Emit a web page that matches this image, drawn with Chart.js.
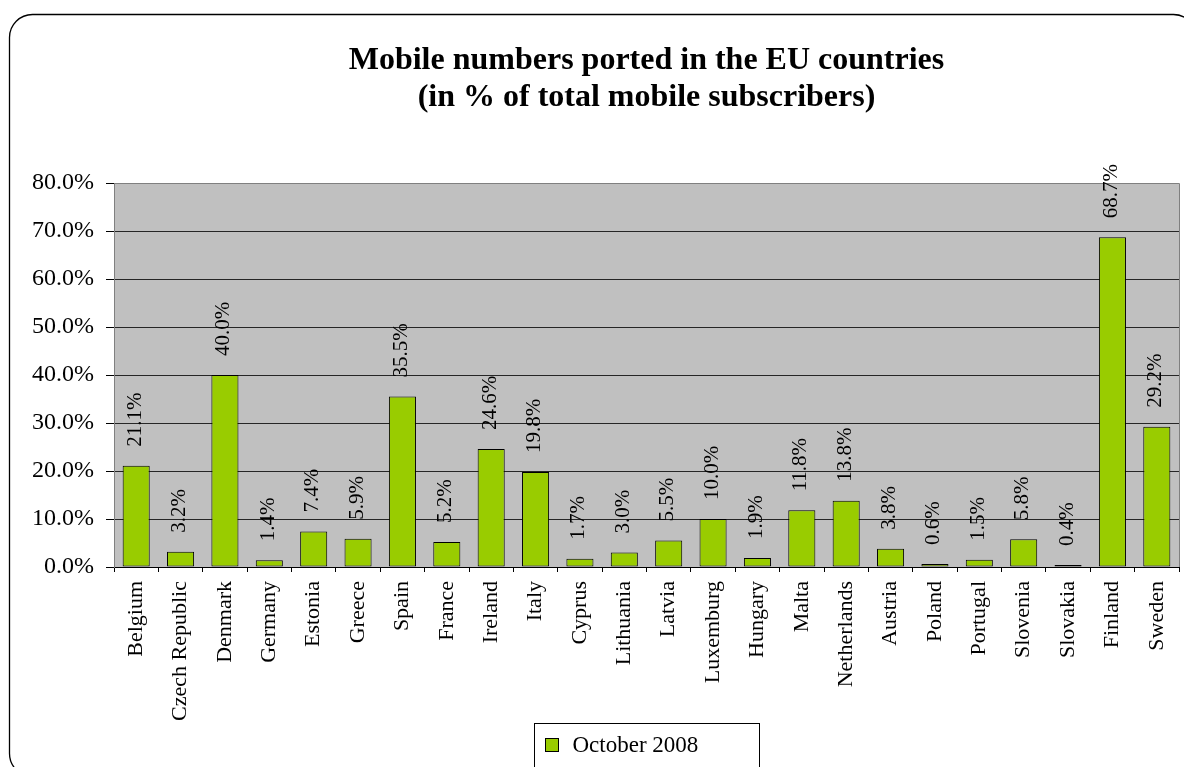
<!DOCTYPE html>
<html>
<head>
<meta charset="utf-8">
<title>Mobile numbers ported in the EU countries</title>
<script src="https://cdn.jsdelivr.net/npm/chart.js@4.4.1/dist/chart.umd.min.js"></script>
<style>
  html, body { margin: 0; padding: 0; background: #ffffff; }
  #wrap { width: 1184px; height: 767px; position: relative; }
</style>
</head>
<body>
<div id="wrap"><canvas id="chart" width="1184" height="767"></canvas></div>
<script>
// Share of mobile numbers ported, October 2008 (% of total mobile subscribers)
const countries = [
  'Belgium', 'Czech Republic', 'Denmark', 'Germany', 'Estonia', 'Greece',
  'Spain', 'France', 'Ireland', 'Italy', 'Cyprus', 'Lithuania', 'Latvia',
  'Luxemburg', 'Hungary', 'Malta', 'Netherlands', 'Austria', 'Poland',
  'Portugal', 'Slovenia', 'Slovakia', 'Finland', 'Sweden'
];
const ported2008 = [
  21.1, 3.2, 40.0, 1.4, 7.4, 5.9,
  35.5, 5.2, 24.6, 19.8, 1.7, 3.0, 5.5,
  10.0, 1.9, 11.8, 13.8, 3.8, 0.6,
  1.5, 5.8, 0.4, 68.7, 29.2
];
const seriesName = 'October 2008';
const titleLines = ['Mobile numbers ported in the EU countries', '(in % of total mobile subscribers)'];
const yMin = 0, yMax = 80, yStep = 10;

const SERIF = '"Liberation Serif", "Times New Roman", serif';
const BAR_FILL = '#99CC00';

// Gray plot area, frame, title, value labels, legend box and rounded outer border
const decorations = {
  id: 'decorations',
  beforeDraw(chart) {
    const { ctx, chartArea: a } = chart;
    ctx.save();
    ctx.fillStyle = '#ffffff';
    ctx.fillRect(0, 0, chart.width, chart.height);
    ctx.fillStyle = '#C0C0C0';
    ctx.fillRect(a.left, a.top, a.right - a.left, a.bottom - a.top);
    ctx.restore();
  },
  beforeDatasetsDraw(chart) {
    const { ctx, chartArea: a } = chart;
    ctx.save();
    ctx.strokeStyle = '#808080';
    ctx.lineWidth = 1;
    ctx.beginPath();
    ctx.moveTo(a.left, a.top + 0.5);
    ctx.lineTo(a.right + 0.5, a.top + 0.5);
    ctx.lineTo(a.right + 0.5, a.bottom);
    ctx.stroke();
    ctx.restore();
  },
  afterDatasetsDraw(chart) {
    const { ctx } = chart;
    const meta = chart.getDatasetMeta(0);
    const values = chart.data.datasets[0].data;
    ctx.save();
    ctx.fillStyle = '#000000';
    ctx.font = '21px ' + SERIF;
    ctx.textAlign = 'left';
    ctx.textBaseline = 'middle';
    meta.data.forEach((bar, i) => {
      ctx.save();
      ctx.translate(bar.x - 1, bar.y - 19);
      ctx.rotate(-Math.PI / 2);
      ctx.fillText(values[i].toFixed(1) + '%', 0, 0);
      ctx.restore();
    });
    ctx.restore();
  },
  afterDraw(chart) {
    const { ctx, chartArea: a } = chart;
    const cx = (a.left + a.right) / 2;
    ctx.save();

    // title
    ctx.fillStyle = '#000000';
    ctx.font = 'bold 32px ' + SERIF;
    ctx.textAlign = 'center';
    ctx.textBaseline = 'alphabetic';
    ctx.fillText(titleLines[0], cx, 69);
    ctx.fillText(titleLines[1], cx, 106);

    // legend
    const ds = chart.data.datasets[0];
    ctx.font = '23px ' + SERIF;
    const boxW = 225;
    const bx = Math.round(cx - boxW / 2) + 0.5;
    const by = 723.5;
    ctx.strokeStyle = '#000000';
    ctx.lineWidth = 1;
    ctx.strokeRect(bx, by, boxW, 60);
    ctx.fillStyle = ds.backgroundColor;
    ctx.fillRect(bx + 11, by + 15, 13, 13);
    ctx.strokeRect(bx + 11, by + 15, 13, 13);
    ctx.fillStyle = '#000000';
    ctx.textAlign = 'left';
    ctx.textBaseline = 'middle';
    ctx.fillText(ds.label, bx + 38, by + 22);

    // rounded outer border
    ctx.strokeStyle = '#000000';
    ctx.lineWidth = 1.3;
    ctx.beginPath();
    ctx.roundRect(9.5, 14.5, 1187, 762, 23);
    ctx.stroke();
    ctx.restore();
  }
};

new Chart(document.getElementById('chart'), {
  type: 'bar',
  data: {
    labels: countries,
    datasets: [{
      label: seriesName,
      data: ported2008,
      backgroundColor: BAR_FILL,
      borderColor: '#000000',
      borderWidth: 1,
      borderSkipped: false,
      barPercentage: 0.61,
      categoryPercentage: 1.0
    }]
  },
  options: {
    responsive: false,
    animation: false,
    devicePixelRatio: 1,
    layout: { padding: { top: 183, right: 5, left: 0, bottom: 0 } },
    plugins: {
      legend: { display: false },
      title: { display: false },
      tooltip: { enabled: false }
    },
    scales: {
      x: {
        offset: true,
        grid: {
          offset: true,
          drawOnChartArea: false,
          drawTicks: true,
          tickLength: 5,
          tickColor: '#000000'
        },
        border: { display: true, color: '#000000', width: 1 },
        ticks: {
          autoSkip: false,
          maxRotation: 90,
          minRotation: 90,
          padding: 9,
          color: '#000000',
          font: { family: SERIF, size: 22 }
        },
        afterFit(scale) {
          scale.height = 200;
          scale.paddingLeft = 0;
          scale.paddingRight = 0;
        }
      },
      y: {
        min: yMin,
        max: yMax,
        grid: {
          color: (c) => (c.tick && c.tick.value === yMax ? '#808080' : '#262626'),
          tickColor: '#000000',
          tickLength: 8,
          lineWidth: 1
        },
        border: { display: true, color: '#808080', width: 1 },
        ticks: {
          stepSize: yStep,
          padding: 12,
          color: '#000000',
          font: { family: SERIF, size: 24 },
          callback: (v) => Number(v).toFixed(1) + '%'
        },
        afterFit(scale) { scale.width = 114; }
      }
    }
  },
  plugins: [decorations]
});
</script>
</body>
</html>
